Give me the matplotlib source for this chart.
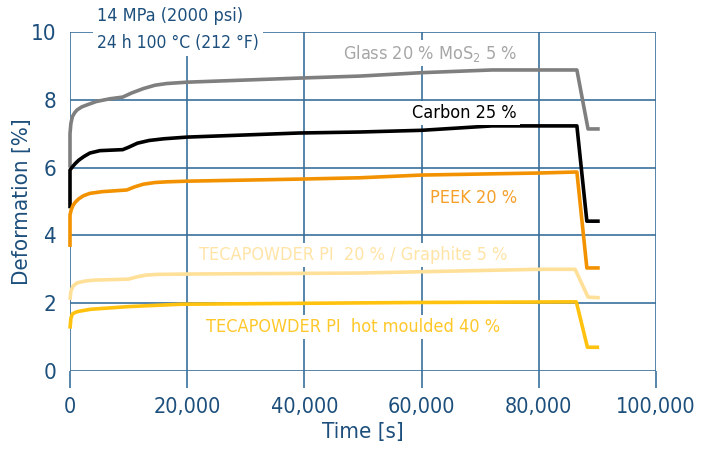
import matplotlib
matplotlib.use("Agg")
from matplotlib import pyplot as plt

# Datos (tiempo en s, deformacion en %)
t_glass = [0, 0, 150, 400, 800, 1200, 2000, 2900, 4500, 6800, 9000, 10500, 12500, 14500, 16500, 20000, 39000, 49500, 60000, 72000, 86500, 88400, 90400]
y_glass = [6.0, 7.0, 7.3, 7.5, 7.62, 7.7, 7.79, 7.85, 7.95, 8.03, 8.08, 8.2, 8.33, 8.43, 8.48, 8.52, 8.64, 8.7, 8.8, 8.88, 8.88, 7.14, 7.14]

t_carbon = [0, 0, 400, 900, 1500, 2400, 3400, 5100, 9000, 10000, 11500, 13500, 16000, 20000, 39000, 49500, 60000, 72000, 86500, 88200, 90400]
y_carbon = [4.8, 5.93, 6.02, 6.12, 6.22, 6.33, 6.43, 6.5, 6.53, 6.6, 6.72, 6.8, 6.85, 6.9, 7.02, 7.05, 7.1, 7.23, 7.23, 4.42, 4.42]

t_peek = [0, 0, 200, 500, 900, 1500, 2300, 3400, 5500, 9700, 11000, 12500, 14500, 16500, 20000, 39000, 49500, 60000, 80000, 86500, 88200, 90400]
y_peek = [3.66, 4.6, 4.75, 4.88, 4.98, 5.08, 5.17, 5.24, 5.29, 5.34, 5.43, 5.51, 5.56, 5.58, 5.6, 5.66, 5.7, 5.78, 5.84, 5.87, 3.04, 3.04]

t_graph = [0, 150, 500, 1200, 2500, 4000, 10000, 11500, 13000, 15000, 20000, 49500, 80000, 86200, 88400, 90400]
y_graph = [2.1, 2.35, 2.5, 2.6, 2.65, 2.68, 2.71, 2.78, 2.83, 2.85, 2.86, 2.89, 3.0, 3.0, 2.18, 2.16]

t_hot = [0, 150, 400, 900, 1500, 3500, 10000, 19000, 58000, 86400, 88300, 90300]
y_hot = [1.25, 1.55, 1.68, 1.73, 1.76, 1.82, 1.9, 1.97, 2.02, 2.04, 0.7, 0.7]

series = [
    (t_glass, y_glass, "#7f7f7f"),
    (t_carbon, y_carbon, "#000000"),
    (t_peek, y_peek, "#f39200"),
    (t_graph, y_graph, "#ffe099"),
    (t_hot, y_hot, "#ffc20e"),
]

etiquetas = [
    ("Glass 20 % MoS$_2$ 5 %", 517, 53, "#a6a6a6"),
    ("Carbon 25 %", 517, 113, "#000000"),
    ("PEEK 20 %", 517, 198, "#f5a02a"),
    ("TECAPOWDER PI  20 % / Graphite 5 %", 507, 255, "#ffe4a6"),
    ("TECAPOWDER PI  hot moulded 40 %", 500, 327, "#ffc82a"),
]

azul = "#1d4f7c"
grid_c = "#3a6f9c"

plt.rcParams["font.family"] = ["DejaVu Sans"]
plt.rcParams["font.stretch"] = "condensed"

fig = plt.figure(figsize=(7.14, 4.5), dpi=100)
ax = fig.add_axes([70 / 714, 79 / 450, 586 / 714, 339 / 450])

for t, y, c in series:
    ax.plot(t, y, color=c, lw=2.6, solid_joinstyle="round", solid_capstyle="butt", clip_on=False, zorder=3)

ax.set_xlim(0, 100000)
ax.set_ylim(0, 10)
ax.set_xticks([0, 20000, 40000, 60000, 80000, 100000])
ax.set_xticklabels(["0", "20,000", "40,000", "60,000", "80,000", "100,000"])
ax.set_yticks([0, 2, 4, 6, 8, 10])
ax.grid(True, color=grid_c, lw=1.2)
for s in ax.spines.values():
    s.set_visible(False)
ax.tick_params(axis="x", length=12, width=1.2, color=grid_c, labelcolor=azul, labelsize=15.5, pad=7)
ax.tick_params(axis="y", length=0, labelcolor=azul, labelsize=16, pad=10)
ax.set_xlabel("Time [s]", color=azul, fontsize=16, labelpad=3)
ax.set_ylabel("Deformation [%]", color=azul, fontsize=16)
ax.yaxis.set_label_coords(-0.064, 0.5)

# etiquetas con fondo blanco que tapan la reticula
for txt, px, py, c in etiquetas:
    fig.text(px / 714, 1 - py / 450, txt, color=c, fontsize=13, ha="right", va="center",
             bbox=dict(facecolor="white", edgecolor="none", pad=2), zorder=5)

fig.text(97 / 714, 1 - 16 / 450, "14 MPa (2000 psi)", color=azul, fontsize=13, ha="left", va="center",
         bbox=dict(facecolor="white", edgecolor="none", pad=2))
fig.text(97 / 714, 1 - 43 / 450, "24 h 100 °C (212 °F)", color=azul, fontsize=12.5, ha="left", va="center",
         bbox=dict(facecolor="white", edgecolor="none", pad=3))

fig.savefig("out.png", dpi=100)
